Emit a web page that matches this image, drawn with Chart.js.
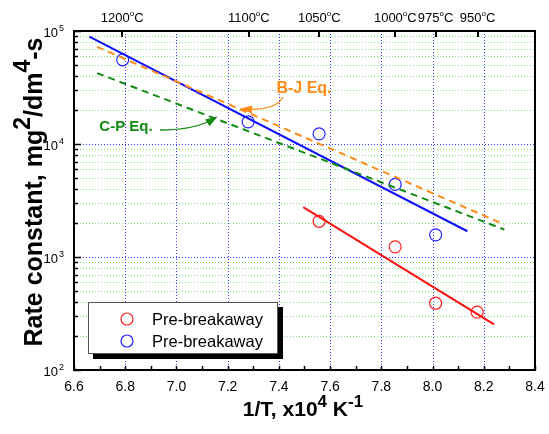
<!DOCTYPE html>
<html><head><meta charset="utf-8">
<script src="https://cdn.jsdelivr.net/npm/chart.js@4/dist/chart.umd.min.js"></script>
<style>html,body{margin:0;padding:0;background:#fff}#wrap{width:549px;height:434px}</style>
</head><body><div id="wrap"><canvas id="c"></canvas></div>
<script>
// axis ticks
const xTicks=[6.6,6.8,7.0,7.2,7.4,7.6,7.8,8.0,8.2,8.4];
const yDecades=[2,3,4,5];
const tempLabels=[1200,1100,1050,1000,975,950];

// measured points
const redX=[7.557,7.854,8.012,8.174];
const redY=[2070,1230,390,325];
const blueX=[6.79,7.28,7.557,7.854,8.012];
const blueY=[55600,15700,12300,4390,1570];

// fitted lines
const blueFitX=[6.66,8.136], blueFitY=[89000,1690];
const redFitX=[7.495,8.24], redFitY=[2760,253];
const bjX=[6.69,8.28], bjY=[72400,1940];
const cpX=[6.69,8.28], cpY=[42400,1750];

function pts(xs,ys){ return xs.map((x,i)=>({x:x,y:ys[i]})); }

const FONT='"Liberation Sans", Arial, sans-serif';

function rich(ctx,parts,x,y,align){
  let w=0;
  parts.forEach(p=>{ctx.font=p.f;w+=ctx.measureText(p.t).width;});
  let cx = align==='center'? x-w/2 : (align==='right'? x-w : x);
  parts.forEach(p=>{
    ctx.font=p.f;
    ctx.fillText(p.t,cx,y-(p.up||0));
    cx+=ctx.measureText(p.t).width;
  });
}

function arrow(ctx,x0,y0,cx,cy,x1,y1,color){
  ctx.strokeStyle=color; ctx.fillStyle=color; ctx.lineWidth=1.3;
  ctx.beginPath(); ctx.moveTo(x0,y0); ctx.quadraticCurveTo(cx,cy,x1,y1); ctx.stroke();
  let a=Math.atan2(y1-cy,x1-cx);
  ctx.beginPath();
  ctx.moveTo(x1+3*Math.cos(a),y1+3*Math.sin(a));
  ctx.lineTo(x1-9*Math.cos(a)+4*Math.sin(a),y1-9*Math.sin(a)-4*Math.cos(a));
  ctx.lineTo(x1-9*Math.cos(a)-4*Math.sin(a),y1-9*Math.sin(a)+4*Math.cos(a));
  ctx.closePath(); ctx.fill();
}

const decor={
  id:'decor',
  beforeDatasetsDraw(chart){
    const ctx=chart.ctx, a=chart.chartArea, xs=chart.scales.x, ys=chart.scales.y;
    ctx.save();
    ctx.lineWidth=1;
    // minor horizontal grid (green)
    ctx.setLineDash([1,2]);
    yDecades.slice(0,-1).forEach(d=>{
      for(let m=2;m<10;m++){
        let y=Math.round(ys.getPixelForValue(m*Math.pow(10,d)))+0.5;
        ctx.strokeStyle='#86e486';
        ctx.beginPath();ctx.moveTo(a.left,y);ctx.lineTo(a.right,y);ctx.stroke();
      }
    });
    // major grid (blue)
    ctx.strokeStyle='#3b3bff';
    yDecades.slice(1,-1).forEach(d=>{
      let y=Math.round(ys.getPixelForValue(Math.pow(10,d)))+0.5;
      ctx.beginPath();ctx.moveTo(a.left,y);ctx.lineTo(a.right,y);ctx.stroke();
    });
    xTicks.slice(1,-1).forEach(v=>{
      let x=Math.round(xs.getPixelForValue(v))+0.5;
      ctx.beginPath();ctx.moveTo(x,a.top);ctx.lineTo(x,a.bottom);ctx.stroke();
    });
    ctx.restore();
  },
  afterDatasetsDraw(chart){
    const ctx=chart.ctx, a=chart.chartArea, xs=chart.scales.x, ys=chart.scales.y;
    ctx.save();
    ctx.setLineDash([]);
    ctx.strokeStyle='#000';
    // ticks
    ctx.lineWidth=1.5;
    for(let v=6.6;v<8.41;v+=0.1){
      let x=Math.round(xs.getPixelForValue(v))+0.5;
      ctx.beginPath();ctx.moveTo(x,a.bottom);ctx.lineTo(x,a.bottom-4);ctx.stroke();
    }
    yDecades.forEach((d,i)=>{
      let y=Math.round(ys.getPixelForValue(Math.pow(10,d)))+0.5;
      ctx.beginPath();ctx.moveTo(a.left,y);ctx.lineTo(a.left+7,y);ctx.stroke();
      if(i<yDecades.length-1){
        for(let m=2;m<10;m++){
          let yy=Math.round(ys.getPixelForValue(m*Math.pow(10,d)))+0.5;
          ctx.beginPath();ctx.moveTo(a.left,yy);ctx.lineTo(a.left+4,yy);ctx.stroke();
        }
      }
    });
    ctx.lineWidth=2;
    tempLabels.forEach(t=>{
      let x=Math.round(xs.getPixelForValue(1e4/(t+273.15)));
      ctx.beginPath();ctx.moveTo(x,a.top);ctx.lineTo(x,a.top+6);ctx.stroke();
    });
    // frame
    ctx.lineWidth=2;
    ctx.strokeRect(a.left,a.top,a.right-a.left,a.bottom-a.top);

    // tick labels
    ctx.fillStyle='#000';
    ctx.textBaseline='alphabetic';
    ctx.textAlign='left';
    xTicks.forEach(v=>{
      rich(ctx,[{t:v.toFixed(1),f:'14px '+FONT}],xs.getPixelForValue(v),391,'center');
    });
    yDecades.forEach(d=>{
      let y=ys.getPixelForValue(Math.pow(10,d));
      rich(ctx,[{t:'10',f:'13px '+FONT}],58,y+6,'right');
      rich(ctx,[{t:String(d),f:'9px '+FONT}],59,y,'left');
    });
    tempLabels.forEach(t=>{
      let x=xs.getPixelForValue(1e4/(t+273.15));
      rich(ctx,[{t:String(t),f:'13px '+FONT},{t:'o',f:'8px '+FONT,up:6},{t:'C',f:'13px '+FONT}],x,22,'center');
    });

    // axis titles
    const B='bold 21px '+FONT, S='bold 17px '+FONT;
    rich(ctx,[{t:'1/T, x10',f:B},{t:'4',f:S,up:9},{t:' K',f:B},{t:'-1',f:S,up:9}],303,416,'center');
    ctx.save();
    ctx.translate(42,192);
    ctx.rotate(-Math.PI/2);
    const B2='bold 25px '+FONT, S2='bold 23px '+FONT;
    rich(ctx,[{t:'Rate constant, mg',f:B2},{t:'2',f:S2,up:12},{t:'/dm',f:B2},{t:'4',f:S2,up:12},{t:'-s',f:B2}],0,0,'center');
    ctx.restore();

    // annotations
    ctx.fillStyle='#ff8c1a';
    rich(ctx,[{t:'B-J Eq.',f:'bold 16px '+FONT}],304,93,'center');
    arrow(ctx,283,97,276,111,243,109,'#ff8c1a');
    ctx.fillStyle='#138a13';
    rich(ctx,[{t:'C-P Eq.',f:'bold 15px '+FONT}],126,131,'center');
    arrow(ctx,160,130,196,130,215,118,'#138a13');

    // legend
    ctx.fillStyle='#000';
    ctx.fillRect(93,307,190,52);
    ctx.fillStyle='#fff';
    ctx.fillRect(88,302,190,52);
    ctx.strokeStyle='#555';ctx.lineWidth=1;
    ctx.strokeRect(88.5,302.5,189,51);
    [['#ff2020',319],['#2020ff',341]].forEach(e=>{
      ctx.strokeStyle=e[0];ctx.lineWidth=1.2;
      ctx.beginPath();ctx.arc(127,e[1],6,0,Math.PI*2);ctx.stroke();
      ctx.fillStyle='#000';
      rich(ctx,[{t:'Pre-breakaway',f:'16.5px '+FONT}],152,e[1]+6,'left');
    });
    ctx.restore();
  }
};

const circle=(c)=>({pointStyle:'circle',pointRadius:6,pointBorderColor:c,pointBackgroundColor:'rgba(0,0,0,0)',pointBorderWidth:1.2,showLine:false});
const line=(c,dash)=>({borderColor:c,borderWidth:2,borderDash:dash||[],pointRadius:0,showLine:true,fill:false});

new Chart(document.getElementById('c'),{
  type:'scatter',
  data:{datasets:[
    Object.assign({label:'BJ',data:pts(bjX,bjY)},line('#ff8c1a',[7,5])),
    Object.assign({label:'CP',data:pts(cpX,cpY)},line('#138a13',[7,5])),
    Object.assign({label:'blue fit',data:pts(blueFitX,blueFitY)},line('#1010ff')),
    Object.assign({label:'red fit',data:pts(redFitX,redFitY)},line('#ff1010')),
    Object.assign({label:'Pre-breakaway red',data:pts(redX,redY)},circle('#ff2020')),
    Object.assign({label:'Pre-breakaway blue',data:pts(blueX,blueY)},circle('#2020ff'))
  ]},
  options:{
    responsive:true,maintainAspectRatio:false,animation:false,
    layout:{padding:{left:74,right:14,top:31,bottom:64}},
    plugins:{legend:{display:false},tooltip:{enabled:false}},
    scales:{
      x:{type:'linear',min:6.6,max:8.4,display:false},
      y:{type:'logarithmic',min:100,max:100000,display:false}
    }
  },
  plugins:[decor]
});
</script>
</body></html>
